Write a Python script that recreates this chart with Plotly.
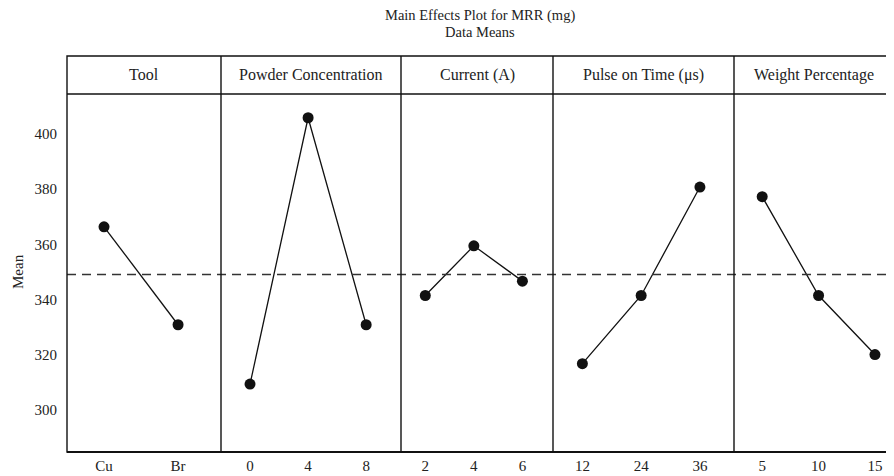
import plotly.graph_objects as go

# ---- data ----
panel_titles = ["Tool", "Powder Concentration", "Current (A)", "Pulse on Time (μs)", "Weight Percentage"]
tool_levels = ["Cu", "Br"]
tool_means = [366.4, 330.9]
powder_levels = ["0", "4", "8"]
powder_means = [309.4, 405.9, 330.9]
current_levels = ["2", "4", "6"]
current_means = [341.5, 359.5, 346.7]
pulse_levels = ["12", "24", "36"]
pulse_means = [316.8, 341.5, 380.8]
weight_levels = ["5", "10", "15"]
weight_means = [377.3, 341.5, 320.1]
grand_mean = 349.1
y_ticks = [300, 320, 340, 360, 380, 400]

levels = [tool_levels, powder_levels, current_levels, pulse_levels, weight_levels]
means = [tool_means, powder_means, current_means, pulse_means, weight_means]

# ---- layout geometry (pixels, page coordinates) ----
OFF = 8  # default page body margin
W, H = 894 - OFF, 476 - OFF
L, R, T, B = 67 - OFF, 1, 94 - OFF, 24
plot_w = W - L - R
plot_h = H - T - B
bounds_px = [67, 221, 401, 553, 734, 893]
x_right = [1.58, 2.6, 2.63, 2.58, 2.32]
header_h = 38

FONT = "Liberation Serif"
TXT = "#222222"
fig = go.Figure()

for i in range(5):
    ax = "" if i == 0 else str(i + 1)
    n = len(levels[i])
    fig.add_trace(go.Scatter(
        x=list(range(n)), y=means[i], mode="lines+markers",
        line=dict(color="#111111", width=1.3),
        marker=dict(color="#111111", size=11),
        xaxis="x" + ax, yaxis="y", showlegend=False, hoverinfo="x+y"))
    d0 = (bounds_px[i] - 67) / plot_w
    d1 = (bounds_px[i + 1] - 67) / plot_w
    fig.update_layout(**{
        "xaxis" + ax: dict(
            domain=[d0, min(d1, 1)], range=[-0.5, x_right[i]],
            tickvals=list(range(n)), ticktext=levels[i],
            showgrid=False, zeroline=False, showline=False, ticks="",
            ticklabelstandoff=3,
            tickfont=dict(family=FONT, size=15, color=TXT),
            anchor="y", fixedrange=True)
    })

fig.update_layout(
    yaxis=dict(range=[284.8, 414.5], tickvals=y_ticks, showgrid=False,
               zeroline=False, showline=False, ticks="", ticklabelstandoff=9,
               tickfont=dict(family=FONT, size=15, color=TXT), fixedrange=True),
)

shapes = []
shapes.append(dict(type="line", xref="paper", yref="y", x0=0, x1=1,
                   y0=grand_mean, y1=grand_mean,
                   line=dict(color="#333333", width=1.5, dash="9px,6px")))
top = 1 + header_h / plot_h
shapes.append(dict(type="rect", xref="paper", yref="paper", x0=0, x1=1, y0=0, y1=top,
                   line=dict(color="#111111", width=1.4)))
shapes.append(dict(type="line", xref="paper", yref="paper", x0=0, x1=1, y0=1, y1=1,
                   line=dict(color="#111111", width=1.4)))
shapes.append(dict(type="line", xref="paper", yref="paper", x0=0, x1=1, y0=0, y1=0,
                   line=dict(color="#111111", width=2)))
for bpx in bounds_px[1:-1]:
    xp = (bpx - 67) / plot_w
    shapes.append(dict(type="line", xref="paper", yref="paper", x0=xp, x1=xp, y0=0, y1=top,
                       line=dict(color="#111111", width=1.4)))

annotations = []
for i in range(5):
    xc = ((bounds_px[i] + bounds_px[i + 1]) / 2 - 67) / plot_w
    annotations.append(dict(text=panel_titles[i], xref="paper", yref="paper",
                            x=xc, y=1 + (header_h / 2) / plot_h, showarrow=False,
                            xanchor="center", yanchor="middle",
                            font=dict(family=FONT, size=16, color=TXT)))
annotations.append(dict(text="Main Effects Plot for MRR (mg)", xref="paper", yref="paper",
                        x=0.5, y=1 + (94 - 15) / plot_h, showarrow=False,
                        xanchor="center", yanchor="middle",
                        font=dict(family=FONT, size=14.5, color=TXT)))
annotations.append(dict(text="Data Means", xref="paper", yref="paper",
                        x=0.5, y=1 + (94 - 32) / plot_h, showarrow=False,
                        xanchor="center", yanchor="middle",
                        font=dict(family=FONT, size=14.5, color=TXT)))
annotations.append(dict(text="Mean", xref="paper", yref="paper",
                        x=(18 - 67) / plot_w, y=1 - (272 - 94) / plot_h, showarrow=False,
                        textangle=-90, xanchor="center", yanchor="middle",
                        font=dict(family=FONT, size=15, color=TXT)))

fig.update_layout(
    width=W, height=H,
    margin=dict(l=L, r=R, t=T, b=B, pad=0),
    paper_bgcolor="white", plot_bgcolor="white",
    shapes=shapes, annotations=annotations,
    font=dict(family=FONT, size=15, color=TXT),
)

fig.write_html("out.html")
